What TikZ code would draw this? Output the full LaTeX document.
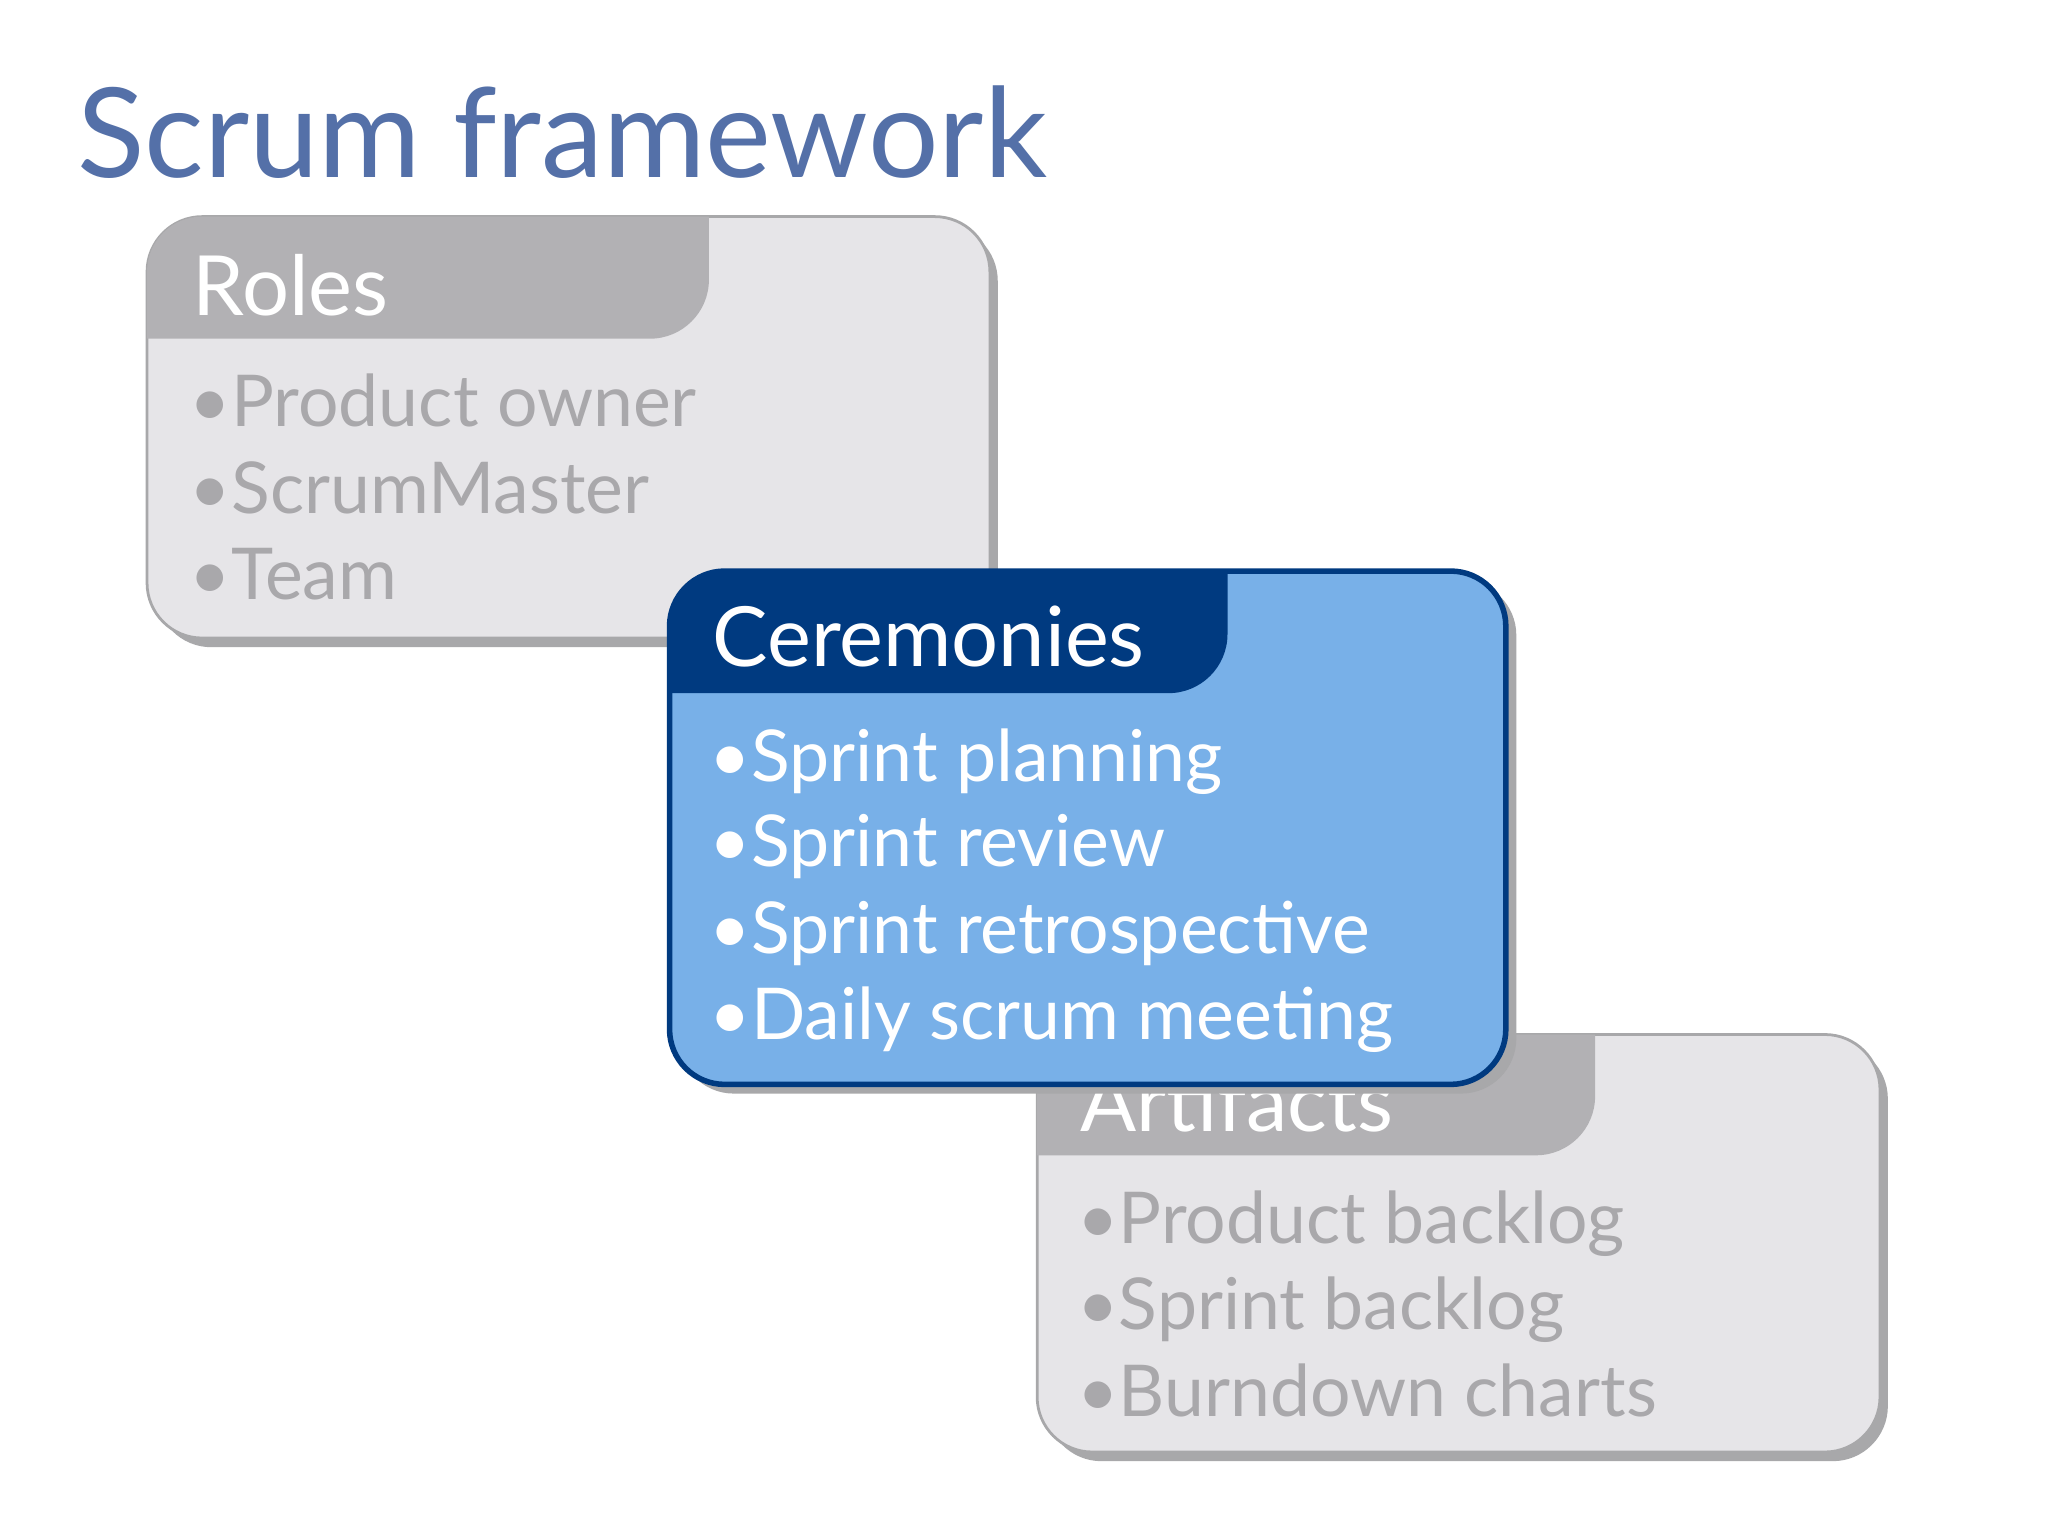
\documentclass[tikz,border=0pt]{standalone}
\usepackage{fontspec}
\setmainfont{Lato}
\definecolor{ttl}{HTML}{5470A8}
\definecolor{gbody}{HTML}{E6E5E8}
\definecolor{gtab}{HTML}{B2B1B4}
\definecolor{gtxt}{HTML}{A9A8AB}
\definecolor{gshadow}{HTML}{A8A8AA}
\definecolor{bbody}{HTML}{78B0E8}
\definecolor{btab}{HTML}{003A80}
\tikzset{
  item/.style={anchor=base west,inner sep=0pt,font=\fontsize{15.5}{18}\selectfont},
  head/.style={anchor=base west,inner sep=0pt,text=white,font=\fontsize{18}{21}\selectfont},
}
\begin{document}
\begin{tikzpicture}[y=-1cm]
\useasboundingbox (0,0) rectangle (15.6,11.7);
\fill[white] (0,0) rectangle (15.6,11.7);
\node[anchor=base west,inner sep=0pt,text=ttl,font=\fontsize{27}{30}\selectfont] (title) at (0.58,1.35) {Scrum framework};
% Roles
\fill[gshadow,rounded corners=0.42cm] (1.19,1.72) rectangle (7.60,4.93);
\fill[gbody,draw=gshadow,line width=0.6pt,rounded corners=0.42cm] (1.12,1.65) rectangle (7.54,4.86);
\begin{scope}
\clip[rounded corners=0.42cm] (1.12,1.65) rectangle (7.54,4.86);
\fill[gtab] (1.12,1.65) -- (5.40,1.65) {[rounded corners=0.45cm] -- (5.40,2.58)} -- (1.12,2.58) -- cycle;
\end{scope}
\node[head] (roles) at (1.46,2.40) {Roles};
\node[item,text=gtxt] (r1) at (1.44,3.25) {•Product owner};
\node[item,text=gtxt] (r2) at (1.44,3.91) {•ScrumMaster};
\node[item,text=gtxt] (r3) at (1.44,4.57) {•Team};
% Artifacts
\fill[gshadow,rounded corners=0.42cm] (7.97,7.95) rectangle (14.38,11.13);
\fill[gbody,draw=gshadow,line width=0.6pt,rounded corners=0.42cm] (7.90,7.88) rectangle (14.32,11.06);
\begin{scope}
\clip[rounded corners=0.42cm] (7.90,7.88) rectangle (14.32,11.06);
\fill[gtab] (7.90,7.88) -- (12.15,7.88) {[rounded corners=0.45cm] -- (12.15,8.80)} -- (7.90,8.80) -- cycle;
\end{scope}
\node[head] (artifacts) at (8.22,8.62) {Artifacts};
\node[item,text=gtxt] (a1) at (8.20,9.47) {•Product backlog};
\node[item,text=gtxt] (a2) at (8.20,10.13) {•Sprint backlog};
\node[item,text=gtxt] (a3) at (8.20,10.79) {•Burndown charts};
% Ceremonies
\fill[gshadow,rounded corners=0.42cm] (5.17,4.42) rectangle (11.55,8.33);
\fill[bbody,rounded corners=0.42cm] (5.10,4.35) rectangle (11.47,8.26);
\begin{scope}
\clip[rounded corners=0.42cm] (5.10,4.35) rectangle (11.47,8.26);
\fill[btab] (5.10,4.35) -- (9.35,4.35) {[rounded corners=0.45cm] -- (9.35,5.28)} -- (5.10,5.28) -- cycle;
\end{scope}
\draw[btab,line width=1.2pt,rounded corners=0.42cm] (5.10,4.35) rectangle (11.47,8.26);
\node[head] (cer) at (5.42,5.08) {Ceremonies};
\node[item,text=white] (c1) at (5.40,5.95) {•Sprint planning};
\node[item,text=white] (c2) at (5.40,6.60) {•Sprint review};
\node[item,text=white] (c3) at (5.40,7.26) {•Sprint retrospective};
\node[item,text=white] (c4) at (5.40,7.92) {•Daily scrum meeting};
\end{tikzpicture}
\end{document}
